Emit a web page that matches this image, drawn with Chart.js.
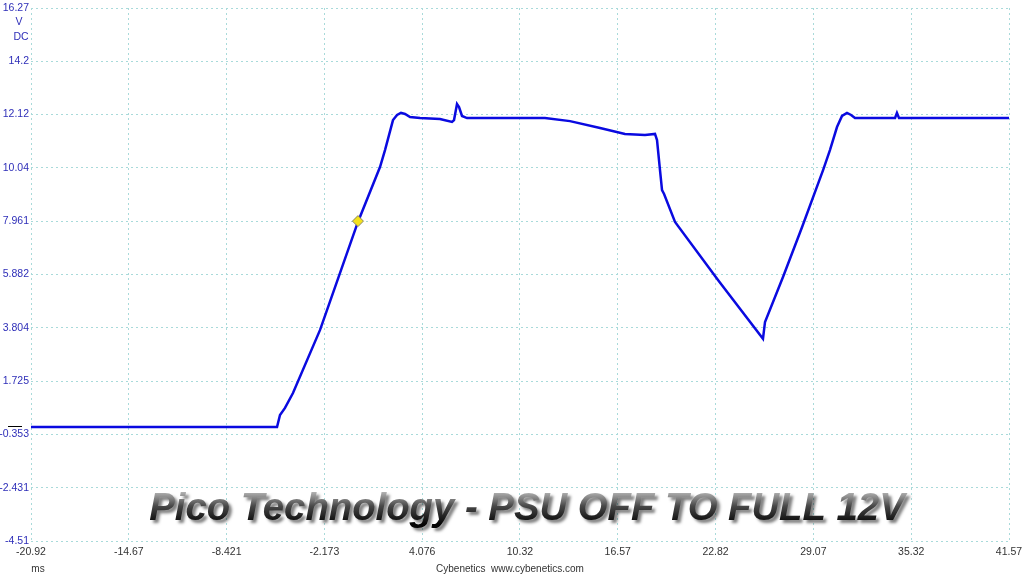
<!DOCTYPE html>
<html>
<head>
<meta charset="utf-8">
<title>Pico Technology - PSU OFF TO FULL 12V</title>
<script src="https://cdn.jsdelivr.net/npm/chart.js@4.4.1/dist/chart.umd.min.js"></script>
<style>
  html, body { margin: 0; padding: 0; background: #fff; }
  #wrap { width: 1024px; height: 576px; position: relative; }
</style>
</head>
<body>
<div id="wrap"><canvas id="scope" width="1024" height="576"></canvas></div>
<script>
// trace (ms, V DC)
const timeMs = [
  -20.92, -5.20, -5.01, -4.69, -4.18, -2.45, -0.03, 1.38, 1.70, 2.21,
  2.47, 2.72, 2.98, 3.30, 3.94, 5.21, 5.98, 6.11, 6.30, 6.43,
  6.62, 6.94, 11.92, 13.52, 15.44, 17.03, 18.31, 18.95, 19.08, 19.27,
  19.40, 19.53, 20.23, 23.00, 25.85, 25.98, 27.13, 28.35, 29.69, 30.13,
  30.58, 30.90, 31.22, 31.48, 31.73, 34.29, 34.41, 34.54, 41.57
];
const voltage = [
  -0.07, -0.07, 0.40, 0.68, 1.26, 3.72, 7.93, 10.07, 10.73, 11.90,
  12.10, 12.18, 12.14, 12.02, 11.98, 11.94, 11.83, 11.90, 12.53, 12.41,
  12.06, 11.98, 11.98, 11.86, 11.59, 11.36, 11.32, 11.36, 11.12, 9.95,
  9.17, 9.02, 7.93, 5.65, 3.37, 4.03, 5.78, 7.73, 9.95, 10.73,
  11.63, 12.06, 12.18, 12.10, 11.98, 11.98, 12.18, 11.98, 11.98
];

// cursor marker
const markerTime = [-0.03];
const markerVolt = [7.961];

const xTickValues = [-20.92, -14.67, -8.421, -2.173, 4.076, 10.32, 16.57, 22.82, 29.07, 35.32, 41.57];
const xTickLabels = ["-20.92", "-14.67", "-8.421", "-2.173", "4.076", "10.32", "16.57", "22.82", "29.07", "35.32", "41.57"];
const yTickValues = [-4.51, -2.431, -0.353, 1.725, 3.804, 5.882, 7.961, 10.04, 12.12, 14.2, 16.27];
const yTickLabels = ["-4.51", "-2.431", "-0.353", "1.725", "3.804", "5.882", "7.961", "10.04", "12.12", "14.2", "16.27"];

const titleText = "Pico Technology - PSU OFF TO FULL 12V";
const footerText = "Cybenetics  www.cybenetics.com";

const tickBlue = "#2e2eb8";
const gridCol = "#a9dada";
const fontFam = "'Liberation Sans', Arial, sans-serif";

const tracePts = timeMs.map((t, i) => ({ x: t, y: voltage[i] }));
const markerPts = markerTime.map((t, i) => ({ x: t, y: markerVolt[i] }));

// extra text: unit labels, zero marker, big title, footer
const decor = {
  id: "decor",
  afterDraw(chart) {
    const { ctx, scales } = chart;
    ctx.save();
    ctx.font = "10.5px " + fontFam;
    ctx.fillStyle = tickBlue;
    ctx.textAlign = "center";
    ctx.textBaseline = "middle";
    ctx.fillText("V", 19, 22);
    ctx.fillText("DC", 21, 37);

    // zero level tag
    const y0 = scales.y.getPixelForValue(0);
    ctx.strokeStyle = "#000";
    ctx.lineWidth = 1;
    ctx.beginPath();
    ctx.moveTo(8, Math.round(y0) + 1.5);
    ctx.lineTo(22, Math.round(y0) + 1.5);
    ctx.stroke();

    ctx.fillStyle = "#333";
    ctx.font = "10px " + fontFam;
    ctx.fillText("ms", 38, 569);
    ctx.fillText(footerText, 510, 569);

    // embossed title
    ctx.font = "italic bold 40px " + fontFam;
    const w = ctx.measureText(titleText).width;
    const size = 40 * 755 / w;
    ctx.font = "italic bold " + size.toFixed(1) + "px " + fontFam;
    ctx.textAlign = "center";
    ctx.textBaseline = "alphabetic";
    const base = 520;
    const g = ctx.createLinearGradient(0, base - size * 0.75, 0, base + 4);
    g.addColorStop(0, "#b8b8b8");
    g.addColorStop(0.45, "#484848");
    g.addColorStop(1, "#050505");
    ctx.shadowColor = "rgba(0,0,0,0.5)";
    ctx.shadowOffsetX = 3;
    ctx.shadowOffsetY = 3;
    ctx.shadowBlur = 3;
    ctx.fillStyle = g;
    ctx.fillText(titleText, 527, base);
    ctx.restore();
  }
};

const ctx = document.getElementById("scope");

new Chart(ctx, {
  type: "line",
  data: {
    datasets: [
      {
        type: "scatter",
        data: markerPts,
        pointStyle: "rectRot",
        pointRadius: 5.5,
        backgroundColor: "#f4e21c",
        borderColor: "#8a8560",
        borderWidth: 1,
      },
      {
        data: tracePts,
        borderColor: "#0a0ae0",
        borderWidth: 2.5,
        pointRadius: 0,
        tension: 0,
        fill: false,
      },
    ],
  },
  options: {
    responsive: false,
    animation: false,
    layout: { padding: { top: 8, right: 15, left: 0, bottom: 0 } },
    plugins: {
      legend: { display: false },
      tooltip: { enabled: false },
    },
    scales: {
      x: {
        type: "linear",
        min: xTickValues[0],
        max: xTickValues[xTickValues.length - 1],
        afterBuildTicks: (s) => { s.ticks = xTickValues.map((v) => ({ value: v })); },
        afterFit: (s) => { s.height = 35; s.paddingLeft = 0; s.paddingRight = 0; },
        grid: { color: gridCol, lineWidth: 1, drawTicks: false },
        border: { display: false, dash: [2, 3] },
        ticks: {
          autoSkip: false,
          maxRotation: 0,
          padding: 5,
          color: "#333",
          font: { family: fontFam, size: 10.5 },
          callback: (v, i) => xTickLabels[i],
        },
      },
      y: {
        type: "linear",
        min: yTickValues[0],
        max: yTickValues[yTickValues.length - 1],
        afterBuildTicks: (s) => { s.ticks = yTickValues.map((v) => ({ value: v })); },
        afterFit: (s) => { s.width = 31; s.paddingTop = 0; s.paddingBottom = 0; },
        grid: { color: gridCol, lineWidth: 1, drawTicks: false },
        border: { display: false, dash: [2, 3] },
        ticks: {
          autoSkip: false,
          padding: 2,
          color: tickBlue,
          font: { family: fontFam, size: 10.5 },
          callback: (v, i) => yTickLabels[i],
        },
      },
    },
  },
  plugins: [decor],
});
</script>
</body>
</html>
